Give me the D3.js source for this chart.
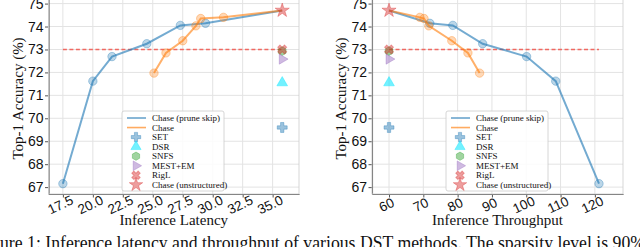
<!DOCTYPE html>
<html>
<head>
<meta charset="utf-8">
<script src="https://cdn.jsdelivr.net/npm/d3@7"></script>
<style>
  body { margin: 0; background: #fff; }
  svg { display: block; font-family: "Liberation Serif", "Times New Roman", serif; }
</style>
</head>
<body>
<div id="chart"></div>
<script>
// accuracy of Chase (prune skip) and Chase along the curves
const accPrune = [67.15, 71.62, 72.69, 73.25, 74.05, 74.14, 74.7];
const latencyPrune = [17.5, 20.0, 21.6, 24.5, 27.3, 29.4, 35.8];
const throughputPrune = [121.2, 108.6, 100.1, 87.3, 78.6, 71.9, 60];

const accChase = [71.97, 72.85, 73.38, 74.03, 74.35, 74.4, 74.7];
const latencyChase = [25.1, 26.1, 27.5, 28.6, 29.0, 30.9, 35.8];
const throughputChase = [86.4, 83.0, 78.3, 71.6, 70.2, 69.0, 60];

// other DST methods, all at the same latency / throughput
const methods = ["SET", "DSR", "SNFS", "MEST+EM", "RigL", "Chase (unstructured)"];
const methodAcc = [69.6, 71.55, 72.93, 72.58, 73.0, 74.7];
const methodLatency = 35.8;
const methodThroughput = 60;

const baselineAcc = 73;
const yTicks = [67, 68, 69, 70, 71, 72, 73, 74, 75];
const latencyTicks = [17.5, 20.0, 22.5, 25.0, 27.5, 30.0, 32.5, 35.0];
const throughputTicks = [60, 70, 80, 90, 100, 110, 120];

const width = 640, height = 247;
const blue = "#1f77b4", orange = "#ff7f0e";
const methodColor = { "SET": "#1f77b4", "DSR": "#00e5ff", "SNFS": "#2ca02c",
  "MEST+EM": "#9467bd", "RigL": "#d62728", "Chase (unstructured)": "#d62728" };

const svg = d3.select("#chart").append("svg")
  .attr("width", width).attr("height", height);

function hexPath(r) {
  return d3.range(6).map(i => {
    const a = Math.PI / 6 + i * Math.PI / 3;
    return [r * Math.cos(a), r * Math.sin(a)];
  }).map((p, i) => (i ? "L" : "M") + p[0].toFixed(2) + "," + p[1].toFixed(2)).join("") + "Z";
}

function markerPath(name, k) {
  switch (name) {
    case "SET": return d3.symbol(d3.symbolCross, 55 * k)();
    case "DSR": return d3.symbol(d3.symbolTriangle, 50 * k)();
    case "SNFS": return hexPath(4.4 * Math.sqrt(k));
    case "MEST+EM": return d3.symbol(d3.symbolTriangle, 45 * k)();
    case "RigL": return d3.symbol(d3.symbolCross, 50 * k)();
    default: return d3.symbol(d3.symbolStar, 62 * k)();
  }
}
function markerRotate(name) {
  if (name === "MEST+EM") return 90;
  if (name === "RigL") return 45;
  return 0;
}

function drawPanel(opts) {
  const { left, right, top, bottom, xDomain, xTicks, xFormat, xLabel,
          xPrune, xChase, xMethod, legendX } = opts;
  const x = d3.scaleLinear().domain(xDomain).range([left, right]);
  const y = d3.scaleLinear().domain([66.7, 75.2]).range([bottom, top]);
  const g = svg.append("g");

  // grid
  g.append("g").selectAll("line").data(xTicks).enter().append("line")
    .attr("x1", d => x(d)).attr("x2", d => x(d))
    .attr("y1", top).attr("y2", bottom)
    .attr("stroke", "#e3e3e3").attr("stroke-width", 1);
  g.append("g").selectAll("line").data(yTicks).enter().append("line")
    .attr("x1", left).attr("x2", right)
    .attr("y1", d => y(d)).attr("y2", d => y(d))
    .attr("stroke", "#e3e3e3").attr("stroke-width", 1);

  // axes
  const xAxis = g.append("g")
    .attr("transform", "translate(0," + bottom + ")")
    .call(d3.axisBottom(x).tickValues(xTicks).tickFormat(xFormat).tickSize(3.5).tickSizeOuter(0));
  xAxis.selectAll("text")
    .attr("font-size", 13.5).attr("fill", "#111")
    .attr("text-anchor", "middle")
    .attr("dy", null).attr("y", 0)
    .attr("transform", "translate(-1,15) rotate(-25)");
  const yAxis = g.append("g")
    .attr("transform", "translate(" + left + ",0)")
    .call(d3.axisLeft(y).tickValues(yTicks).tickFormat(d3.format("d")).tickSize(3.5).tickSizeOuter(0));
  yAxis.selectAll("text").attr("font-size", 14).attr("fill", "#111").attr("x", -5);
  [xAxis, yAxis].forEach(a => {
    a.select(".domain").attr("stroke", "#555").attr("stroke-width", 1.1);
    a.selectAll(".tick line").attr("stroke", "#555");
  });
  g.append("rect").attr("x", left).attr("y", top)
    .attr("width", right - left).attr("height", bottom - top)
    .attr("fill", "none").attr("stroke", "#ccc").attr("stroke-width", 0.8);

  // 73% reference line
  const xs = [xMethod, ...xPrune];
  const yb = Math.round(y(baselineAcc)) + 0.5;
  g.append("line")
    .attr("x1", x(d3.min(xs))).attr("x2", x(d3.max(xs)))
    .attr("y1", yb).attr("y2", yb)
    .style("stroke", "rgb(240, 105, 98)").style("stroke-width", "1.3px")
    .style("stroke-dasharray", "4 2.5");

  // curves
  const line = d3.line().x(d => x(d[0])).y(d => y(d[1]));
  [[xPrune, accPrune, blue], [xChase, accChase, orange]].forEach(([xv, yv, c]) => {
    const pts = xv.map((v, i) => [v, yv[i]]);
    g.append("path").datum(pts).attr("d", line)
      .attr("fill", "none").attr("stroke", c).attr("stroke-width", 2).attr("opacity", 0.62);
    g.selectAll(null).data(pts.slice(0, -1)).enter().append("circle")
      .attr("cx", d => x(d[0])).attr("cy", d => y(d[1])).attr("r", 4.2)
      .attr("fill", c).attr("fill-opacity", 0.3)
      .attr("stroke", c).attr("stroke-opacity", 0.35);
  });

  // method markers
  methods.forEach((m, i) => {
    g.append("path").attr("d", markerPath(m, 1))
      .attr("transform", "translate(" + x(xMethod) + "," + y(methodAcc[i]) + ") rotate(" + markerRotate(m) + ")")
      .attr("fill", methodColor[m]).attr("fill-opacity", m === "DSR" ? 0.55 : 0.45)
      .attr("stroke", methodColor[m]).attr("stroke-opacity", 0.35);
  });

  // labels
  g.append("text").attr("x", (left + right) / 2).attr("y", 225)
    .attr("text-anchor", "middle").attr("font-size", 15).attr("fill", "#111")
    .text(xLabel);
  g.append("text")
    .attr("transform", "translate(" + (left - 26) + "," + ((top + bottom) / 2 + 2) + ") rotate(-90)")
    .attr("text-anchor", "middle").attr("font-size", 15).attr("fill", "#111")
    .text("Top-1 Accuracy (%)");

  // legend
  const lg = g.append("g").attr("transform", "translate(" + legendX + ",111)");
  lg.append("rect").attr("width", 102).attr("height", 80).attr("rx", 2)
    .attr("fill", "#fff").attr("fill-opacity", 0.85).attr("stroke", "#ccc").attr("stroke-width", 0.8);
  const entries = ["Chase (prune skip)", "Chase", ...methods];
  entries.forEach((name, i) => {
    const ry = 7 + i * 9.55;
    if (i < 2) {
      lg.append("line").attr("x1", 5).attr("x2", 24).attr("y1", ry).attr("y2", ry)
        .attr("stroke", i === 0 ? blue : orange).attr("stroke-width", 1.6).attr("opacity", 0.65);
    } else {
      lg.append("path").attr("d", markerPath(name, 0.9))
        .attr("transform", "translate(14," + ry + ") rotate(" + markerRotate(name) + ")")
        .attr("fill", methodColor[name]).attr("fill-opacity", name === "DSR" ? 0.55 : 0.45)
        .attr("stroke", methodColor[name]).attr("stroke-opacity", 0.35);
    }
    lg.append("text").attr("x", 30).attr("y", ry + 3).attr("font-size", 9).attr("fill", "#111")
      .text(name);
  });
}

drawPanel({
  left: 48.5, right: 299, top: -1, bottom: 194,
  xDomain: [16.3, 37.2], xTicks: latencyTicks, xFormat: d3.format(".1f"),
  xLabel: "Inference Latency", xPrune: latencyPrune, xChase: latencyChase,
  xMethod: methodLatency, legendX: 122
});
drawPanel({
  left: 372, right: 623, top: -1, bottom: 194,
  xDomain: [55.04, 128.2], xTicks: throughputTicks, xFormat: d3.format("d"),
  xLabel: "Inference Throughput", xPrune: throughputPrune, xChase: throughputChase,
  xMethod: methodThroughput, legendX: 446
});

// caption, cut off by the bottom edge as in the source figure
const cap = svg.append("text").attr("y", 249).attr("font-size", 19).attr("fill", "#111")
  .text("Figure 1: Inference latency and throughput of various DST methods. The sparsity level is 90%");
const lead = cap.node().getSubStringLength(0, 3);
const total = cap.node().getComputedTextLength();
const s = 645 / (total - lead);
cap.attr("textLength", total * s).attr("lengthAdjust", "spacingAndGlyphs")
  .attr("x", -lead * s);
</script>
</body>
</html>
